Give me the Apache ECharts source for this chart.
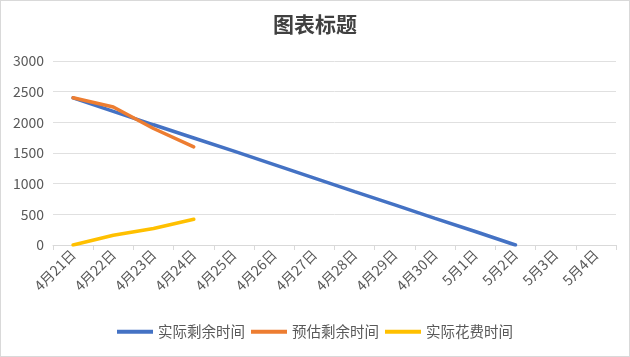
<!DOCTYPE html>
<html><head><meta charset="utf-8">
<script src="https://cdn.jsdelivr.net/npm/echarts@6/dist/echarts.min.js"></script>
<style>
html,body{margin:0;padding:0;background:#fff;}
#c{width:628px;height:355px;border:1px solid #d9d9d9;}
</style></head>
<body><div id="c"></div>
<script>
const categories = ['4月21日','4月22日','4月23日','4月24日','4月25日','4月26日','4月27日','4月28日','4月29日','4月30日','5月1日','5月2日','5月3日','5月4日'];
const actualRemaining = [2400, 2180, 1960, 1745, 1530, 1310, 1090, 870, 655, 435, 220, 0, null, null];
const estimatedRemaining = [2400, 2250, 1900, 1600, null, null, null, null, null, null, null, null, null, null];
const actualSpent = [0, 160, 270, 420, null, null, null, null, null, null, null, null, null, null];
const seriesNames = ['实际剩余时间','预估剩余时间','实际花费时间'];
const yTicks = {min: 0, max: 3000, interval: 500};

const font = '"Noto Sans CJK SC", sans-serif';
const chart = echarts.init(document.getElementById('c'));
const mk = (name, data, color) => ({
  name, type: 'line', data, symbol: 'none', smooth: false,
  lineStyle: {width: 3.5, color, cap: 'round'}, itemStyle: {color}
});
chart.setOption({
  animation: false,
  textStyle: {fontFamily: font},
  title: {text: '图表标题', left: 'center', top: 8,
    textStyle: {fontSize: 21, fontWeight: 'bold', color: '#404040', fontFamily: font}},
  grid: {left: 52, right: 13, top: 60, bottom: 111},
  legend: {bottom: 12, left: 'center', itemWidth: 36, itemHeight: 4, itemGap: 6,
    icon: 'rect',
    textStyle: {fontSize: 14.5, color: '#595959', fontFamily: font}, data: seriesNames},
  xAxis: {type: 'category', data: categories, boundaryGap: true,
    axisLine: {lineStyle: {color: '#d9d9d9'}},
    axisTick: {show: true, length: 5, lineStyle: {color: '#d9d9d9'}},
    axisLabel: {rotate: 45, fontSize: 14, color: '#595959', interval: 0, margin: 7, fontFamily: font}},
  yAxis: {type: 'value', min: yTicks.min, max: yTicks.max, interval: yTicks.interval,
    axisLine: {show: false}, axisTick: {show: false},
    splitLine: {lineStyle: {color: '#e0e0e0'}},
    axisLabel: {fontSize: 14, color: '#595959', margin: 9, fontFamily: font,
      formatter: v => String(v)}},
  series: [
    mk(seriesNames[0], actualRemaining, '#4472C4'),
    mk(seriesNames[1], estimatedRemaining, '#ED7D31'),
    mk(seriesNames[2], actualSpent, '#FFC000')
  ]
});
</script></body></html>
